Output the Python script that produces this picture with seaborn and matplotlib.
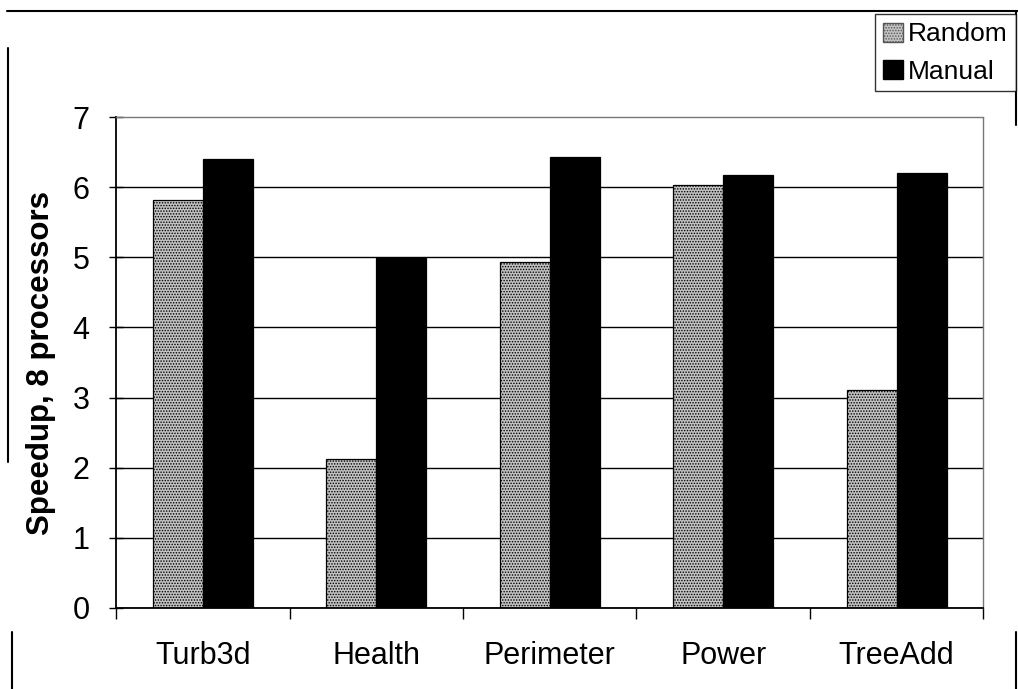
import matplotlib
matplotlib.use("Agg")
import matplotlib.pyplot as plt
import seaborn as sns
import pandas as pd
from matplotlib.lines import Line2D
from matplotlib.patches import Patch
from matplotlib.ticker import FixedLocator

categories = ["Turb3d", "Health", "Perimeter", "Power", "TreeAdd"]
random_vals = [5.82, 2.12, 4.93, 6.03, 3.11]
manual_vals = [6.40, 4.99, 6.43, 6.18, 6.20]
series_names = ["Random", "Manual"]
y_ticks = [0, 1, 2, 3, 4, 5, 6, 7]

df = pd.DataFrame({
    "bench": categories * 2,
    "speedup": random_vals + manual_vals,
    "series": [series_names[0]] * len(categories) + [series_names[1]] * len(categories),
})

sns.set_style("white")
plt.rcParams["font.family"] = ["Liberation Sans", "DejaVu Sans"]
plt.rcParams["hatch.linewidth"] = 0.7
plt.rcParams["text.color"] = "black"
plt.rcParams["xtick.color"] = "black"
plt.rcParams["ytick.color"] = "black"
plt.rcParams["axes.labelcolor"] = "black"

fig = plt.figure(figsize=(10.18, 6.89), dpi=100)
ax = fig.add_axes([0.114, 0.1176, 0.852, 0.7125])

rand_col = "#c2c2c2"
palette = {"Random": rand_col, "Manual": "black"}
sns.barplot(data=df, x="bench", y="speedup", hue="series", order=categories,
            hue_order=series_names, palette=palette, width=0.577, saturation=1,
            edgecolor="black", linewidth=0.9, ax=ax, legend=False)

# stipple texture on Random bars
for p in ax.patches[:len(categories)]:
    p.set_hatch("......")
    try:
        p.set_hatchcolor("#7a7a7a")
    except Exception:
        pass

ax.set_ylim(0, 7)
ax.set_xlim(-0.5, len(categories) - 0.5)
ax.set_yticks(y_ticks)
ax.set_xlabel("")
ax.set_ylabel("Speedup, 8 processors", fontsize=22.5, fontweight="bold", labelpad=12)

ax.tick_params(axis="y", labelsize=22, length=10, width=1, direction="inout", left=True, pad=14)
ax.tick_params(axis="x", which="major", labelsize=22, length=0, pad=24)
ax.xaxis.set_minor_locator(FixedLocator([i - 0.5 for i in range(len(categories) + 1)]))
ax.tick_params(axis="x", which="minor", length=8, width=1, direction="out", bottom=True)

ax.set_axisbelow(True)
ax.yaxis.grid(True, color="black", linewidth=1.0)
fig.canvas.draw()
ax.yaxis.get_gridlines()[-1].set_visible(False)

for s in ["left", "bottom"]:
    ax.spines[s].set_color("black")
    ax.spines[s].set_linewidth(1.3)
for s in ["top", "right"]:
    ax.spines[s].set_color("#777777")
    ax.spines[s].set_linewidth(1.0)
    ax.spines[s].set_linestyle((0, (2, 1)))

handles = [Patch(facecolor=rand_col, edgecolor="#555555", hatch="......", label="Random"),
           Patch(facecolor="black", edgecolor="black", label="Manual")]
leg = fig.legend(handles=handles, loc="upper right", bbox_to_anchor=(0.998, 0.979),
                 fontsize=19, frameon=True, fancybox=False, edgecolor="black",
                 handlelength=0.75, handleheight=0.75, handletextpad=0.2,
                 borderpad=0.3, labelspacing=0.5, borderaxespad=0)
leg.get_frame().set_linewidth(1.0)

# scanned frame remnants
frame_lines = [
    ((7 / 1018, 1.0), (1 - 11 / 689, 1 - 11 / 689)),
    ((8 / 1018, 8 / 1018), (1 - 48 / 689, 1 - 462 / 689)),
    ((12 / 1018, 12 / 1018), (1 - 632 / 689, 0.0)),
    ((1016 / 1018, 1016 / 1018), (1 - 11 / 689, 1 - 125 / 689)),
    ((1016 / 1018, 1016 / 1018), (1 - 632 / 689, 0.0)),
]
for xs, ys in frame_lines:
    fig.add_artist(Line2D(xs, ys, transform=fig.transFigure, color="black", linewidth=1.5))

fig.savefig("out.png", dpi=100)
